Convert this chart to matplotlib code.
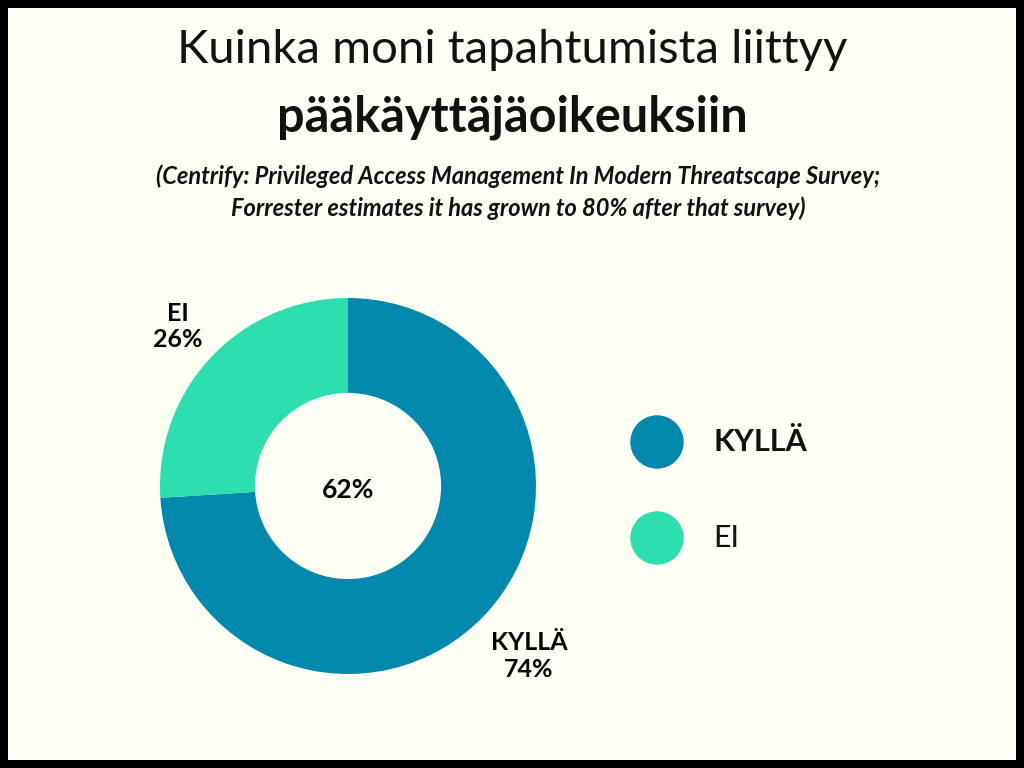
import numpy as np
import matplotlib.pyplot as plt
import matplotlib.patches as mpatches

plt.rcParams['font.family'] = ['Lato', 'DejaVu Sans']

labels = ['KYLLÄ', 'EI']
values = [74, 26]
colors = ['#0089AD', '#2DDFAE']
center_text = '62%'
title1 = 'Kuinka moni tapahtumista liittyy'
title2 = 'pääkäyttäjäoikeuksiin'
subtitle = ('(Centrify: Privileged Access Management In Modern Threatscape Survey;\n'
            'Forrester estimates it has grown to 80% after that survey)')

W, H = 1024, 768
bg = '#FDFEF4'
fig = plt.figure(figsize=(W / 100, H / 100), dpi=100, facecolor=bg)

# black frame
fig.patches.append(mpatches.Rectangle((0, 0), 1, 1, transform=fig.transFigure,
                                      fill=False, edgecolor='black', linewidth=11.5))

fig.text(512 / W, 1 - 50 / H, title1, ha='center', va='center', fontsize=34,
         fontweight='normal', color='#111111')
fig.text(512 / W, 1 - 117 / H, title2, ha='center', va='center', fontsize=35,
         fontweight='bold', color='#111111')
fig.text(518 / W, 1 - 192 / H, subtitle, ha='center', va='center', fontsize=17,
         fontstyle='italic', fontweight='bold', color='#111111', linespacing=1.45)

# donut
cx, cy, r = 348, 486, 188
ax = fig.add_axes([(cx - r) / W, (H - cy - r) / H, 2 * r / W, 2 * r / H])
ax.set_facecolor(bg)
wedges, _ = ax.pie(values, colors=colors, startangle=90, counterclock=False,
                   radius=1, wedgeprops=dict(width=0.505, linewidth=0))
ax.set_xlim(-1, 1)
ax.set_ylim(-1, 1)
ax.set_aspect('equal')
ax.axis('off')
ax.text(0, -0.02, center_text, ha='center', va='center', fontsize=19, fontweight='bold')

dist = [1.32, 1.24]
for w, lab, v, d in zip(wedges, labels, values, dist):
    ang = np.deg2rad((w.theta1 + w.theta2) / 2)
    ax.text(d * np.cos(ang), d * np.sin(ang), f'{lab}\n{v}%', ha='center', va='center',
            fontsize=18, fontweight='bold', linespacing=1.2, clip_on=False)

# legend
lx = 657
ly = [442, 538]
for c, lab, y in zip(colors, labels, ly):
    fig.patches.append(mpatches.Ellipse((lx / W, 1 - y / H), 52 / W, 52 / H,
                                        transform=fig.transFigure, color=c))
    fig.text(713 / W, 1 - y / H, lab, ha='left', va='center', fontsize=22,
             fontweight='bold' if lab == 'KYLLÄ' else 'normal', color='#111111')

fig.savefig('out.png', dpi=100, facecolor=bg)
